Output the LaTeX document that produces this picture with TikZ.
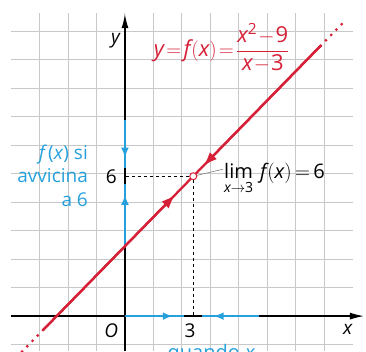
\documentclass[tikz,border=0pt]{standalone}
\usepackage{amsmath}
\usepackage{fontspec}
\setmainfont{Open Sans}
\setmathrm{Open Sans}
\usetikzlibrary{arrows.meta}
\definecolor{fred}{RGB}{214,32,55}
\definecolor{lblue}{RGB}{38,160,220}
\definecolor{gridgray}{RGB}{200,200,200}
\newcommand{\vx}{\textit{x}}
\newcommand{\fx}{\textit{f}\kern1pt(\textit{x})}

\begin{document}
\begin{tikzpicture}[x=22.75pt, y=23.3pt, font=\fontsize{19}{22}\selectfont,
  redline/.style={fred, line width=2.3pt},
  redtip/.style={redline, -{Latex[length=14pt, width=10pt]}},
  blueline/.style={lblue, line width=2pt},
  bluetip/.style={blueline, -{Latex[length=10pt, width=8pt]}},
  axis/.style={line width=1.3pt, -{Latex[length=14pt, width=7pt]}}]
  \useasboundingbox (-5.49,-1.5) rectangle (10.59,13.56);

  % grid and axes
  \draw[gridgray, line width=1pt] (-5,-1.5) grid (10,13);
  \draw[axis] (-5,0) -- (10.5,0);
  \draw[axis] (0,-1.5) -- (0,12.95);

  % points on the axes
  \coordinate (O) at (0,0);
  \coordinate (x3) at (3,0);
  \coordinate (y6) at (0,6);
  \coordinate (y3) at (0,3);

  % blue arrows on the y axis
  \coordinate (ua) at (0,8.4);
  \coordinate (ub) at (0,6.35);
  \coordinate (ut) at (0,6.8);
  \coordinate (lb) at (0,5.65);
  \coordinate (lt) at (0,5.2);
  \draw[blueline] (ua) -- (ub);
  \draw[bluetip] (ua) -- (ut);
  \draw[blueline] (y3) -- (lb);
  \draw[bluetip] (y3) -- (lt);

  % blue arrows on the x axis
  \coordinate (lr) at (2.6,0);
  \coordinate (lrt) at (2.1,0);
  \coordinate (ra) at (5.9,0);
  \coordinate (rb) at (3.4,0);
  \coordinate (rbt) at (3.9,0);
  \draw[blueline] (O) -- (lr);
  \draw[bluetip] (O) -- (lrt);
  \draw[blueline] (ra) -- (rb);
  \draw[bluetip] (ra) -- (rbt);

  % the line y = x + 3
  \coordinate (A) at (-3.6,-0.6);
  \coordinate (B) at (8.6,11.6);
  \coordinate (C) at (9.7,12.7);
  \coordinate (D) at (-4.9,-1.9);
  \coordinate (p1) at (2.2,5.2);
  \coordinate (p2) at (3.45,6.45);
  \draw[redline] (A) -- (B);
  \draw[redline, line width=3.2pt, line cap=round, dash pattern=on 0pt off 7.5pt] (B) -- (C);
  \draw[redline, line width=3.2pt, line cap=round, dash pattern=on 0pt off 7.5pt] (A) -- (D);
  \draw[redtip] (A) -- (p1);
  \draw[redtip] (B) -- (p2);

  % dashed lines and the hole
  \node[circle, draw=fred, fill=white, line width=1pt, inner sep=0pt,
    minimum size=7pt] (hole) at (3,6) {};
  \draw[dashed, line width=1.1pt] (hole) -- (y6);
  \draw[dashed, line width=1.1pt] (hole) -- (x3);

  % labels
  \node (ylab) at (-0.4,11.8) {\textit{y}};
  \node (xlab) at (9.8,-0.55) {\textit{x}};
  \node (olab) at (-0.6,-0.62) {\textit{O}};
  \node (lab3) at (2.86,-0.62) {3};
  \node (lab6) at (-0.6,6) {6};
  \node[fred, inner sep=0pt, font=\fontsize{22}{25}\selectfont] (flab) at (4.25,11.5)
    {$\thickmuskip=2mu \medmuskip=1mu
      \textit{y}=\fx=\dfrac{\vx^{\text{2}}-\text{9}}{\vx-\text{3}}$};
  \node[anchor=west, inner sep=1pt, font=\fontsize{20}{23}\selectfont] (limlab) at (4.3,5.9)
    {$\thickmuskip=3mu
      \mathop{\text{lim}}\limits_{\vx\to\text{3}}\;\fx=\text{6}$};
  \draw[gray, line width=0.6pt] (hole) -- (limlab.west |- 0,6.3);
  \node[lblue, align=right, anchor=east, inner sep=0pt,
    font=\fontsize{19}{23.5}\selectfont] (near6) at (-1.62,6.02)
    {\fx{} si\\avvicina\\a 6};
  \node[lblue, anchor=north, inner sep=0pt, font=\fontsize{20}{23}\selectfont]
    (when) at (3.8,-1.18) {quando \textit{x}};
\end{tikzpicture}
\end{document}
